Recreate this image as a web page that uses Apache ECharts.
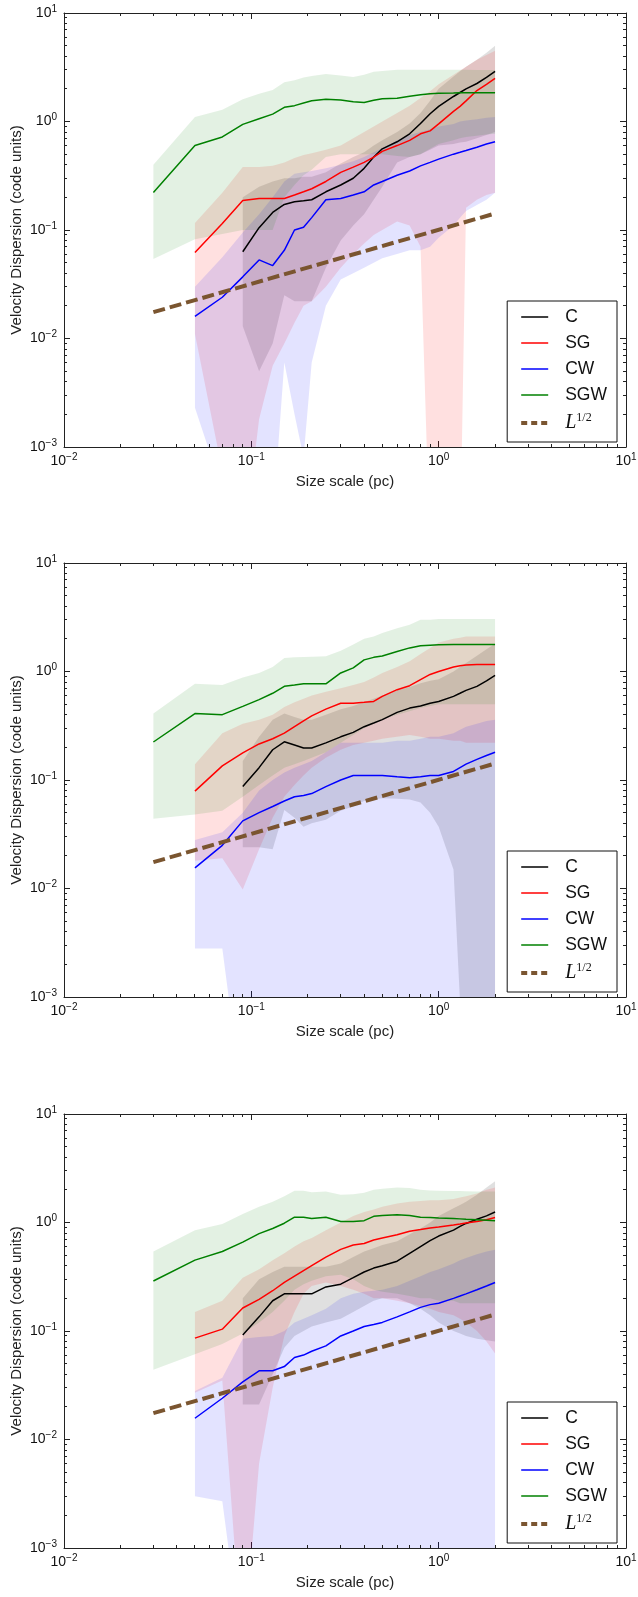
<!DOCTYPE html>
<html><head><meta charset="utf-8">
<script src="https://cdn.jsdelivr.net/npm/echarts@6/dist/echarts.min.js"></script>
<style>html,body{margin:0;padding:0;background:#fff}#c{width:638px;height:1597px}</style>
</head><body><div id="c"></div>
<script>
const N = null;
// Size scale (pc) sample points
const sizePc = [0.03, 0.05, 0.07, 0.09, 0.11, 0.13, 0.15, 0.17, 0.19, 0.21, 0.25, 0.3, 0.35, 0.4, 0.45, 0.5, 0.6, 0.7, 0.8, 0.9, 1.0, 1.2, 1.3, 1.4, 1.6, 1.8, 2.0];
const seriesNames = ['C', 'SG', 'CW', 'SGW'];
const lawName = 'L12';
const lawX = [0.03, 2.0];
const lawY = [0.0175, 0.142];
const minorX = [0.02,0.03,0.04,0.05,0.06,0.07,0.08,0.09,0.2,0.3,0.4,0.5,0.6,0.7,0.8,0.9,2,3,4,5,6,7,8,9];
const minorY = [0.002,0.003,0.004,0.005,0.006,0.007,0.008,0.009,0.02,0.03,0.04,0.05,0.06,0.07,0.08,0.09,0.2,0.3,0.4,0.5,0.6,0.7,0.8,0.9,2,3,4,5,6,7,8,9];

// ---------- Panel 1 ----------
const p1_C     = [N,N,N, 0.063,0.105,0.145,0.172,0.182,0.186,0.19,0.225,0.26,0.3,0.37,0.47,0.56,0.65,0.77,0.96,1.18,1.38,1.7,1.85,2.0,2.24,2.55,2.9];
const p1_C_lo  = [N,N,N, 0.013,0.005,0.009,0.025,0.022,0.022,0.022,0.045,0.08,0.11,0.14,0.19,0.25,0.42,0.47,0.5,0.55,0.6,0.62,0.64,0.65,0.7,0.75,0.8];
const p1_C_hi  = [N,N,N, 0.2,0.25,0.28,0.3,0.3,0.31,0.31,0.34,0.41,0.47,0.52,0.6,0.67,0.8,0.96,1.2,1.55,2.0,2.6,2.9,3.2,3.7,4.3,5.0];
const p1_SG    = [N, 0.062,0.115,0.187,0.195,0.195,0.195,0.21,0.225,0.24,0.28,0.34,0.38,0.42,0.47,0.53,0.6,0.67,0.77,0.82,0.95,1.24,1.38,1.55,1.93,2.2,2.5];
const p1_SG_lo = [N, 0.011,0.0006,0.0001,0.0018,0.0056,0.009,0.014,0.02,0.022,0.03,0.045,0.06,0.075,0.09,0.1,0.12,0.11,0.07,0.0001,0.0001,0.0001,0.0001,0.16,0.19,0.21,0.22];
const p1_SG_hi = [N, 0.116,0.22,0.38,0.38,0.39,0.42,0.46,0.49,0.51,0.55,0.6,0.7,0.8,0.9,1.0,1.2,1.4,1.65,1.9,2.2,2.7,2.95,3.2,3.7,4.1,4.5];
const p1_CW    = [N, 0.016,0.024,0.037,0.053,0.047,0.065,0.1,0.106,0.13,0.19,0.195,0.21,0.225,0.26,0.28,0.32,0.35,0.39,0.42,0.45,0.5,0.52,0.54,0.58,0.62,0.65];
const p1_CW_lo = [N, 0.0023,0.0004,0.0002,0.0002,0.0002,0.006,0.002,0.0008,0.006,0.02,0.035,0.04,0.045,0.05,0.055,0.06,0.065,0.065,0.07,0.085,0.11,0.13,0.15,0.17,0.19,0.22];
const p1_CW_hi = [N, 0.03,0.056,0.095,0.14,0.2,0.28,0.33,0.34,0.35,0.37,0.4,0.43,0.47,0.52,0.57,0.67,0.75,0.8,0.85,0.9,0.95,1.0,1.02,1.05,1.08,1.1];
const p1_SGW    = [0.222,0.6,0.72,0.94,1.06,1.17,1.35,1.4,1.48,1.55,1.6,1.58,1.52,1.5,1.57,1.62,1.64,1.71,1.76,1.8,1.82,1.83,1.84,1.84,1.84,1.84,1.84];
const p1_SGW_lo = [0.054,0.082,0.092,0.1,0.1,0.1,0.2,0.26,0.32,0.36,0.47,0.5,0.5,0.5,0.5,0.5,0.48,0.47,0.5,0.56,0.62,0.67,0.7,0.72,0.74,0.76,0.77];
const p1_SGW_hi = [0.40,1.1,1.28,1.6,1.8,1.95,2.3,2.4,2.55,2.62,2.74,2.65,2.57,2.7,2.88,2.92,3.0,3.0,3.0,3.0,3.0,3.0,3.0,3.0,2.98,2.98,2.98];

// ---------- Panel 2 ----------
const p2_C     = [N,N,N, 0.087,0.13,0.19,0.225,0.21,0.197,0.197,0.22,0.25,0.275,0.31,0.335,0.36,0.42,0.46,0.48,0.51,0.53,0.59,0.63,0.67,0.73,0.82,0.92];
const p2_C_lo  = [N,N,N, 0.024,0.024,0.023,0.053,0.045,0.037,0.04,0.043,0.052,0.057,0.064,0.066,0.068,0.067,0.066,0.062,0.05,0.037,0.015,0.0009,0.0001,0.0001,0.0001,0.0001];
const p2_C_hi  = [N,N,N, 0.15,0.25,0.36,0.41,0.38,0.36,0.36,0.4,0.45,0.48,0.52,0.56,0.6,0.67,0.72,0.78,0.82,0.85,1.0,1.1,1.2,1.4,1.6,1.8];
const p2_SG    = [N, 0.079,0.135,0.178,0.215,0.24,0.27,0.31,0.35,0.39,0.45,0.51,0.51,0.52,0.53,0.59,0.68,0.74,0.84,0.94,1.0,1.1,1.13,1.15,1.16,1.16,1.16];
const p2_SG_lo = [N, 0.018,0.019,0.0098,0.023,0.045,0.07,0.09,0.11,0.13,0.16,0.19,0.21,0.22,0.23,0.24,0.25,0.26,0.25,0.24,0.24,0.23,0.23,0.22,0.22,0.22,0.22];
const p2_SG_hi = [N, 0.14,0.27,0.33,0.36,0.4,0.47,0.52,0.56,0.6,0.65,0.7,0.75,0.8,0.88,0.97,1.1,1.24,1.45,1.65,1.85,2.0,2.05,2.1,2.1,2.1,2.1];
const p2_CW    = [N, 0.0155,0.025,0.042,0.05,0.057,0.064,0.07,0.072,0.075,0.087,0.1,0.11,0.11,0.11,0.11,0.107,0.105,0.107,0.11,0.11,0.12,0.13,0.14,0.155,0.168,0.18];
const p2_CW_lo = [N, 0.0028,0.0028,0.0001,0.0001,0.0001,0.0001,0.0001,0.0001,0.0001,0.0001,0.0001,0.0001,0.0001,0.0001,0.0001,0.0001,0.0001,0.0001,0.0001,0.0001,0.0001,0.0001,0.0001,0.0001,0.0001,0.0001];
const p2_CW_hi = [N, 0.028,0.033,0.05,0.08,0.1,0.117,0.13,0.14,0.15,0.18,0.22,0.22,0.22,0.22,0.22,0.23,0.23,0.24,0.25,0.25,0.27,0.29,0.31,0.33,0.35,0.36];
const p2_SGW    = [0.224,0.41,0.4,0.477,0.55,0.63,0.73,0.75,0.77,0.77,0.77,0.97,1.08,1.28,1.35,1.39,1.53,1.65,1.73,1.75,1.76,1.77,1.77,1.77,1.77,1.77,1.77];
const p2_SGW_lo = [0.044,0.048,0.052,0.07,0.09,0.11,0.13,0.14,0.15,0.16,0.18,0.22,0.26,0.3,0.33,0.36,0.4,0.43,0.46,0.48,0.5,0.5,0.5,0.5,0.5,0.5,0.5];
const p2_SGW_hi = [0.41,0.77,0.75,0.88,0.97,1.1,1.33,1.35,1.36,1.37,1.38,1.55,1.77,2.0,2.1,2.26,2.5,2.7,3.0,3.0,3.05,3.05,3.05,3.05,3.05,3.05,3.05];

// ---------- Panel 3 ----------
const p3_C     = [N,N,N, 0.092,0.135,0.19,0.22,0.22,0.22,0.22,0.255,0.27,0.31,0.35,0.38,0.4,0.44,0.52,0.6,0.68,0.75,0.85,0.92,0.98,1.07,1.15,1.25];
const p3_C_lo  = [N,N,N, 0.021,0.021,0.04,0.07,0.09,0.1,0.11,0.12,0.13,0.15,0.17,0.19,0.2,0.2,0.18,0.16,0.14,0.12,0.1,0.095,0.09,0.085,0.082,0.08];
const p3_C_hi  = [N,N,N, 0.2,0.3,0.35,0.39,0.39,0.39,0.39,0.39,0.42,0.48,0.54,0.58,0.62,0.67,0.78,0.88,1.0,1.15,1.35,1.45,1.55,1.8,2.1,2.4];
const p3_SG    = [N, 0.086,0.104,0.163,0.196,0.235,0.28,0.32,0.36,0.4,0.48,0.565,0.62,0.64,0.69,0.72,0.77,0.83,0.86,0.89,0.91,0.95,0.97,0.99,1.02,1.06,1.11];
const p3_SG_lo = [N, 0.027,0.035,0.0001,0.006,0.03,0.09,0.15,0.22,0.26,0.28,0.26,0.24,0.22,0.2,0.2,0.19,0.18,0.17,0.16,0.15,0.14,0.13,0.12,0.1,0.08,0.062];
const p3_SG_hi = [N, 0.15,0.19,0.31,0.37,0.45,0.52,0.6,0.67,0.72,0.85,1.0,1.15,1.25,1.32,1.4,1.5,1.55,1.58,1.6,1.6,1.65,1.7,1.75,1.85,2.0,2.1];
const p3_CW    = [N, 0.0157,0.024,0.034,0.043,0.043,0.047,0.057,0.06,0.065,0.073,0.09,0.1,0.11,0.115,0.12,0.135,0.15,0.165,0.175,0.18,0.2,0.21,0.22,0.24,0.26,0.28];
const p3_CW_lo = [N, 0.003,0.0027,0.0001,0.0001,0.0001,0.0001,0.0001,0.0001,0.0001,0.0001,0.0001,0.0001,0.0001,0.0001,0.0001,0.0001,0.0001,0.0001,0.0001,0.0001,0.0001,0.0001,0.0001,0.0001,0.0001,0.0001];
const p3_CW_hi = [N, 0.028,0.037,0.085,0.088,0.09,0.1,0.12,0.13,0.14,0.16,0.2,0.22,0.23,0.235,0.24,0.26,0.29,0.32,0.35,0.37,0.42,0.45,0.47,0.51,0.54,0.56];
const p3_SGW    = [0.289,0.45,0.54,0.66,0.79,0.88,0.985,1.12,1.12,1.09,1.12,1.02,1.02,1.04,1.14,1.16,1.18,1.16,1.12,1.11,1.1,1.09,1.08,1.07,1.06,1.05,1.04];
const p3_SGW_lo = [0.044,0.061,0.076,0.095,0.12,0.15,0.19,0.24,0.27,0.29,0.32,0.33,0.3,0.26,0.24,0.23,0.22,0.21,0.2,0.2,0.19,0.19,0.18,0.18,0.18,0.18,0.18];
const p3_SGW_hi = [0.54,0.85,0.97,1.2,1.4,1.55,1.75,1.96,1.96,1.9,1.93,1.8,1.82,1.88,2.0,2.05,2.1,2.08,2.0,1.97,1.96,1.95,1.95,1.94,1.93,1.93,1.93];

const panels = [
  {C:[p1_C,p1_C_lo,p1_C_hi], SG:[p1_SG,p1_SG_lo,p1_SG_hi], CW:[p1_CW,p1_CW_lo,p1_CW_hi], SGW:[p1_SGW,p1_SGW_lo,p1_SGW_hi]},
  {C:[p2_C,p2_C_lo,p2_C_hi], SG:[p2_SG,p2_SG_lo,p2_SG_hi], CW:[p2_CW,p2_CW_lo,p2_CW_hi], SGW:[p2_SGW,p2_SGW_lo,p2_SGW_hi]},
  {C:[p3_C,p3_C_lo,p3_C_hi], SG:[p3_SG,p3_SG_lo,p3_SG_hi], CW:[p3_CW,p3_CW_lo,p3_CW_hi], SGW:[p3_SGW,p3_SGW_lo,p3_SGW_hi]}
];

const LINE_COLORS = {C:'#000000', SG:'#ff0000', CW:'#0000ff', SGW:'#008000'};
const FILL_COLORS = {C:'rgba(0,0,0,0.12)', SG:'rgba(255,0,0,0.12)', CW:'rgba(0,0,255,0.11)', SGW:'rgba(0,128,0,0.11)'};
const LAW_COLOR = '#7a5530';

const GRID_TOPS = [13, 563, 1114];
const LEGEND_TOPS = [301, 851, 1402];
const FONT = 'Liberation Sans, Arial, sans-serif';
const AX_COLOR = '#222';

const RICH = {
  b: {fontSize: 14, lineHeight: 18, fontFamily: FONT, color: '#111'},
  s: {fontSize: 10, lineHeight: 10, verticalAlign: 'top', fontFamily: FONT, color: '#111'}
};
function fmt(v) {
  const e = Math.round(Math.log10(v));
  return '{b|10}{s|' + (e < 0 ? '\u2212' + (-e) : String(e)) + '}';
}

const grids = [], xAxes = [], yAxes = [], series = [], legends = [];

panels.forEach((pd, p) => {
  grids.push({left: 64, top: GRID_TOPS[p], width: 562, height: 434, outerBoundsMode: 'none', containLabel: false});
  const common = {
    type: 'log', logBase: 10, gridIndex: p,
    axisLine: {show: true, onZero: false, lineStyle: {color: AX_COLOR, width: 1}},
    axisTick: {show: true, inside: true, length: 6, lineStyle: {color: AX_COLOR, width: 1}},
    splitLine: {show: false}, minorTick: {show: false}, minorSplitLine: {show: false}
  };
  xAxes.push(Object.assign({}, common, {
    position: 'bottom', min: 0.01, max: 10,
    axisLabel: {show: true, formatter: fmt, rich: RICH, margin: 5, showMinLabel: true, showMaxLabel: true, hideOverlap: false},
    name: 'Size scale (pc)', nameLocation: 'middle', nameGap: 27, nameMoveOverlap: false,
    nameTextStyle: {fontSize: 15, fontFamily: FONT, color: AX_COLOR}
  }));
  xAxes.push(Object.assign({}, common, {position: 'top', min: 0.01, max: 10, axisLabel: {show: false}}));
  yAxes.push(Object.assign({}, common, {
    position: 'left', min: 0.001, max: 10,
    axisLabel: {show: true, formatter: fmt, rich: RICH, margin: 7, showMinLabel: true, showMaxLabel: true, hideOverlap: false},
    name: 'Velocity Dispersion (code units)', nameLocation: 'middle', nameGap: 40, nameMoveOverlap: false,
    nameTextStyle: {fontSize: 15, fontFamily: FONT, color: AX_COLOR}
  }));
  yAxes.push(Object.assign({}, common, {position: 'right', min: 0.001, max: 10, axisLabel: {show: false}}));

  const xi = 2 * p, yi = 2 * p;

  // shaded bands
  seriesNames.forEach(nm => {
    const [mid, lo, hi] = pd[nm];
    const rows = [];
    sizePc.forEach((x, i) => { if (lo[i] != null && hi[i] != null) rows.push([x, lo[i], hi[i]]); });
    const fill = FILL_COLORS[nm];
    series.push({
      type: 'custom', name: nm + '_band', xAxisIndex: xi, yAxisIndex: yi, silent: true, z: 1, clip: true,
      data: rows, encode: {x: 0, y: [1, 2]},
      renderItem: (params, api) => {
        if (params.dataIndex !== 0) return null;
        const pts = [];
        rows.forEach(r => pts.push(api.coord([r[0], r[2]])));
        for (let i = rows.length - 1; i >= 0; i--) pts.push(api.coord([rows[i][0], rows[i][1]]));
        return {type: 'polygon', shape: {points: pts}, style: {fill: fill, stroke: null, lineWidth: 0}};
      }
    });
  });

  // mean lines
  seriesNames.forEach(nm => {
    const mid = pd[nm][0];
    const data = [];
    sizePc.forEach((x, i) => { if (mid[i] != null) data.push([x, mid[i]]); });
    series.push({
      type: 'line', name: nm, xAxisIndex: xi, yAxisIndex: yi, data: data,
      symbol: 'none', showSymbol: false, silent: true, z: 3,
      lineStyle: {color: LINE_COLORS[nm], width: 1.5}, itemStyle: {color: LINE_COLORS[nm]}
    });
  });
  series.push({
    type: 'line', name: lawName, xAxisIndex: xi, yAxisIndex: yi,
    data: lawX.map((x, i) => [x, lawY[i]]),
    symbol: 'none', showSymbol: false, silent: true, z: 4,
    lineStyle: {color: LAW_COLOR, width: 4, type: [12, 5], cap: 'butt'}, itemStyle: {color: LAW_COLOR}
  });

  // minor ticks (2..9 per decade) on all four sides
  series.push({
    type: 'custom', name: 'minorTicks', xAxisIndex: xi, yAxisIndex: yi, silent: true, z: 5, clip: false,
    data: [[1, 1]],
    renderItem: (params, api) => {
      const cs = params.coordSys;
      const ch = [];
      const st = {stroke: AX_COLOR, lineWidth: 1};
      const bot = cs.y + cs.height, top = cs.y, lft = cs.x, rgt = cs.x + cs.width;
      minorX.forEach(v => {
        const px = Math.round(api.coord([v, 1])[0] - 0.5) + 0.5;
        ch.push({type: 'line', shape: {x1: px, y1: bot, x2: px, y2: bot - 3}, style: st});
        ch.push({type: 'line', shape: {x1: px, y1: top, x2: px, y2: top + 3}, style: st});
      });
      minorY.forEach(v => {
        const py = Math.round(api.coord([1, v])[1] - 0.5) + 0.5;
        ch.push({type: 'line', shape: {x1: lft, y1: py, x2: lft + 3, y2: py}, style: st});
        ch.push({type: 'line', shape: {x1: rgt, y1: py, x2: rgt - 3, y2: py}, style: st});
      });
      return {type: 'group', children: ch};
    }
  });

  legends.push({
    orient: 'vertical', right: 21, top: LEGEND_TOPS[p],
    data: ['C', 'SG', 'CW', 'SGW', {name: lawName, lineStyle: {width: 4, type: [6, 4], cap: 'butt'}}],
    backgroundColor: '#fff', borderColor: '#111', borderWidth: 1, borderRadius: 0,
    padding: [7, 10, 9, 12], itemGap: 8, itemWidth: 27, itemHeight: 14,
    selectedMode: false,
    itemStyle: {opacity: 0, borderWidth: 0},
    lineStyle: {width: 'inherit'},
    formatter: name => name === lawName ? '{i|L}{s|1/2}' : name,
    textStyle: {
      fontSize: 17.5, fontFamily: FONT, color: '#111', padding: [0, 0, 0, 12],
      rich: {
        i: {fontSize: 20, fontFamily: 'Liberation Serif, DejaVu Serif, serif', fontStyle: 'italic', color: '#111', lineHeight: 22},
        s: {fontSize: 12, fontFamily: 'Liberation Serif, DejaVu Serif, serif', color: '#111', verticalAlign: 'top', lineHeight: 12}
      }
    }
  });
});

const chart = echarts.init(document.getElementById('c'), null, {renderer: 'canvas'});
chart.setOption({
  animation: false,
  backgroundColor: '#fff',
  grid: grids, xAxis: xAxes, yAxis: yAxes, series: series, legend: legends,
  tooltip: {show: false}
});
</script>
</body></html>
